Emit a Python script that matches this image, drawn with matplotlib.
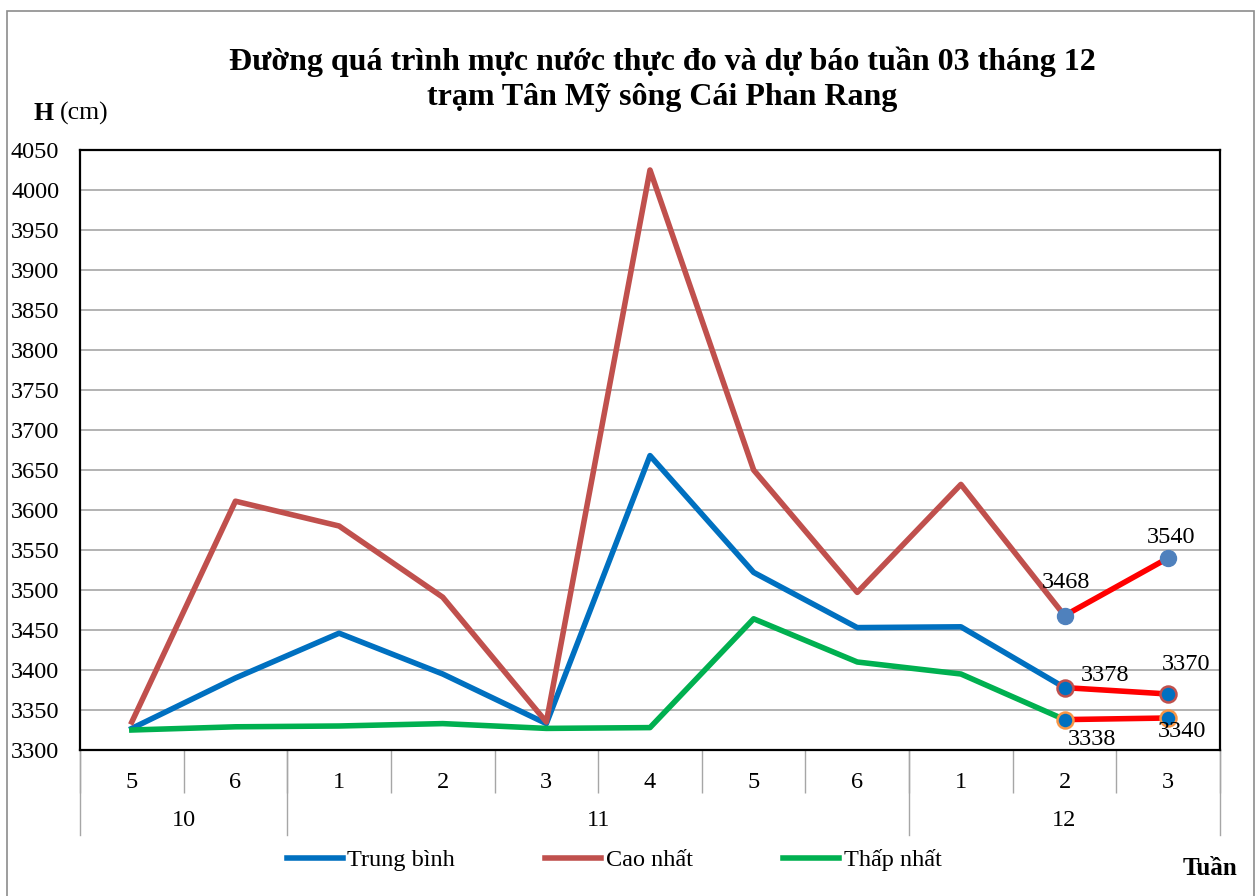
import numpy as np
import matplotlib
matplotlib.use("Agg")
import matplotlib.pyplot as plt
from matplotlib.patches import Rectangle

# ---- data ----
weeks = ["5", "6", "1", "2", "3", "4", "5", "6", "1", "2", "3"]
months = ["10", "11", "12"]
month_sizes = [2, 6, 3]

trung_binh = [3327, 3390, 3446, 3395, 3333, 3668, 3522, 3453, 3454, 3378]
cao_nhat = [3335, 3611, 3580, 3491, 3335, 4025, 3650, 3497, 3632, 3468]
thap_nhat = [3325, 3329, 3330, 3333, 3327, 3328, 3464, 3410, 3395, 3338]

# forecast for the last week (from week 2 to week 3 of month 12)
fc_tb = [3378, 3370]
fc_cn = [3468, 3540]
fc_tn = [3338, 3340]

plt.rcParams['font.family'] = ['Liberation Serif', 'DejaVu Serif']

W, H = 1255, 896
fig = plt.figure(figsize=(W / 100, H / 100), dpi=100)
ax = fig.add_axes([80 / W, 1 - 750 / H, (1220 - 80) / W, 600 / H])

x = np.arange(len(trung_binh))
xf = np.arange(len(trung_binh) - 1, len(trung_binh) + 1)

lw = 4
ax.plot(x, trung_binh, color="#0070C0", lw=lw, label="Trung bình", zorder=3)
ax.plot(x, cao_nhat, color="#C0504D", lw=lw, label="Cao nhất", zorder=3)
ax.plot(x, thap_nhat, color="#00B050", lw=lw, label="Thấp nhất", zorder=3)

ms = 11.5
ax.plot(xf, fc_cn, color="#FF0000", lw=lw, zorder=4, marker="o", ms=ms,
        mfc="#4F81BD", mec="#4F81BD")
ax.plot(xf, fc_tb, color="#FF0000", lw=lw, zorder=4, marker="o", ms=ms,
        mfc="#0070C0", mec="#C0504D", mew=1.8)
ax.plot(xf, fc_tn, color="#FF0000", lw=lw, zorder=4, marker="o", ms=ms,
        mfc="#0070C0", mec="#F79646", mew=1.8)

fs = 17.5
# data labels (offsets in points)
labels = [
    (xf[0], fc_cn[0], 1, 24),
    (xf[1], fc_cn[1], 2, 15),
    (xf[0], fc_tb[0], 29, 8.5),
    (xf[1], fc_tb[1], 13, 21.5),
    (xf[0], fc_tn[0], 20, -14.5),
    (xf[1], fc_tn[1], 10, -9.5),
]
for lx, ly, dx, dy in labels:
    ax.annotate(str(ly), (lx, ly), xytext=(dx, dy), textcoords="offset points",
                ha="center", va="center", fontsize=fs, zorder=5)

ax.set_xlim(-0.5, len(weeks) - 0.5)
ax.set_ylim(3300, 4050)
ax.set_yticks(np.arange(3300, 4051, 50))
ax.yaxis.grid(True, color="#A6A6A6", lw=1.2)
ax.set_axisbelow(True)
ax.tick_params(axis="y", length=0, pad=15, labelsize=fs)

ax.set_xticks(np.arange(len(weeks)))
ax.set_xticklabels(weeks, fontsize=fs)
ax.tick_params(axis="x", which="major", length=0, pad=16)
ax.set_xticks(np.arange(-0.5, len(weeks)), minor=True)
ax.tick_params(axis="x", which="minor", length=31, width=1, color="#A6A6A6")

for s in ax.spines.values():
    s.set_linewidth(1.6)
    s.set_color("black")

# month separators and labels
tr = ax.get_xaxis_transform()
edges = np.concatenate([[0], np.cumsum(month_sizes)]) - 0.5
for e in edges:
    ax.plot([e, e], [0, -85 / 600], transform=tr, color="#A6A6A6", lw=1, clip_on=False)
for i, m in enumerate(months):
    ax.text((edges[i] + edges[i + 1]) / 2, -71 / 600, m, transform=tr,
            ha="center", va="center", fontsize=fs)

# title and axis captions
fig.text(662 / W, 1 - 62 / H, "Đường quá trình mực nước thực đo và dự báo tuần 03 tháng 12",
         ha="center", va="center", fontsize=23, fontweight="bold")
fig.text(662 / W, 1 - 98 / H, "trạm Tân Mỹ sông Cái Phan Rang",
         ha="center", va="center", fontsize=23, fontweight="bold")
fig.text(33 / W, 1 - 113 / H, "H", ha="left", va="center", fontsize=18.5, fontweight="bold")
fig.text(60 / W, 1 - 113 / H, "(cm)", ha="left", va="center", fontsize=18.5)
fig.text(1237 / W, 1 - 868 / H, "Tuần", ha="right", va="center", fontsize=18, fontweight="bold")

leg = fig.legend(loc="center", bbox_to_anchor=(614 / W, 1 - 860 / H), ncol=3, frameon=False,
                 fontsize=fs, handlelength=2.3, handletextpad=0.2, columnspacing=3.7)

# outer chart border
fig.patches.append(Rectangle((7 / W, -0.01), (1254 - 7) / W, 1.01 - 11.5 / H,
                             transform=fig.transFigure, fill=False, ec="#8C8C8C", lw=1.2))

fig.savefig("out.png", dpi=100)
